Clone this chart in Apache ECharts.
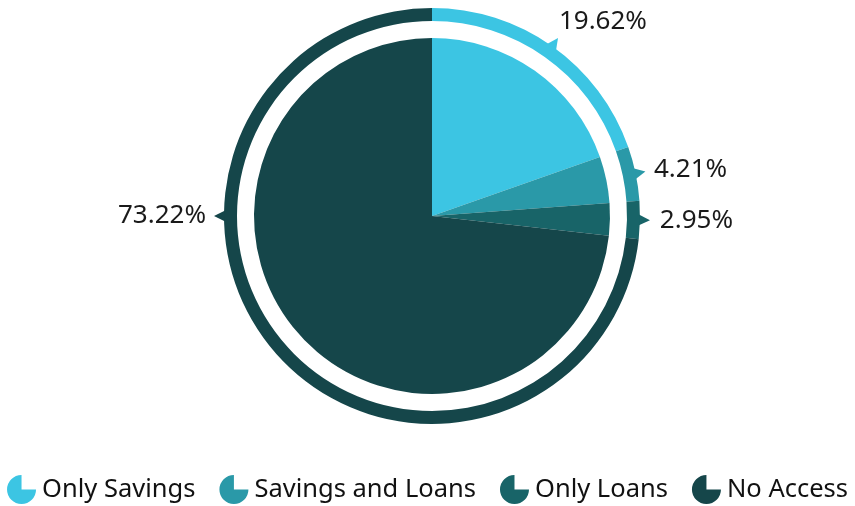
<!DOCTYPE html>
<html>
<head>
<meta charset="utf-8">
<script src="https://cdn.jsdelivr.net/npm/echarts@6/dist/echarts.min.js"></script>
<style>
  html, body { margin: 0; padding: 0; background: #fff; }
  #chart { width: 855px; height: 506px; }
</style>
</head>
<body>
<div id="chart"></div>
<script>
// data
const categories = ['Only Savings', 'Savings and Loans', 'Only Loans', 'No Access']
const shares = [19.62, 4.21, 2.95, 73.22]
const colors = ['#3cc5e3', '#2a99a8', '#186468', '#15464a']

const FONT = 'Noto Sans'
const CENTER = [432, 216]
const RING_OUT = 208

// cumulative start / end of every slice (percent of the circle)
let acc = 0
const spans = shares.map((v, i) => {
  const s = acc
  acc += v
  return [s, acc, v, i]
})

const chart = echarts.init(document.getElementById('chart'))

const option = {
  animation: false,
  color: colors,
  polar: { center: CENTER, radius: RING_OUT },
  angleAxis: { type: 'value', min: 0, max: 100, startAngle: 90, clockwise: true, show: false },
  radiusAxis: { type: 'value', min: 0, max: RING_OUT, show: false },
  legend: {
    left: 'center',
    top: 475,
    padding: 0,
    itemWidth: 31,
    itemHeight: 29,
    itemGap: 24,
    data: categories.map(name => ({ name, icon: 'path://M10 10 L10 0 A10 10 0 1 0 20 10 Z' })),
    textStyle: { fontFamily: FONT, fontSize: 25.5, color: '#111' }
  },
  series: [
    {
      type: 'pie',
      center: CENTER,
      radius: [0, 178],
      startAngle: 90,
      silent: true,
      label: { show: false },
      labelLine: { show: false },
      data: categories.map((name, i) => ({ name, value: shares[i] }))
    },
    {
      type: 'pie',
      center: CENTER,
      radius: [195, RING_OUT],
      startAngle: 90,
      silent: true,
      label: { show: false },
      labelLine: { show: false },
      data: categories.map((name, i) => ({ name, value: shares[i] }))
    },
    {
      // little pointer triangles on the ring + the percent labels
      type: 'custom',
      coordinateSystem: 'polar',
      silent: true,
      data: spans,
      renderItem: (params, api) => {
        const s = api.value(0), e = api.value(1), v = api.value(2), i = api.value(3)
        // the big slice gets its marker at 9 o'clock, the rest at their middle
        const a = v > 50 ? 75 : (s + e) / 2
        const d = 0.5
        const tip = api.coord([RING_OUT + 10, a])
        const b1 = api.coord([RING_OUT - 3, a - d])
        const b2 = api.coord([RING_OUT - 3, a + d])
        const rad = a / 100 * Math.PI * 2
        const sin = Math.sin(rad), cos = Math.cos(rad)
        const p = api.coord([RING_OUT + 20, a])
        let valign = 'middle'
        if (cos > 0.7) valign = 'bottom'
        else if (cos < -0.7) valign = 'top'
        return {
          type: 'group',
          children: [
            {
              type: 'polygon',
              shape: { points: [tip, b1, b2] },
              style: { fill: colors[i] }
            },
            {
              type: 'text',
              x: p[0] - 6 * Math.abs(cos) * (sin >= 0 ? 1 : -1) + (sin < 0 ? 2 : 0),
              y: p[1] + (valign === 'bottom' ? 5 : 0),
              style: {
                text: v.toFixed(2) + '%',
                fill: '#1a1a1a',
                fontFamily: FONT,
                fontSize: 26,
                align: sin >= 0 ? 'left' : 'right',
                verticalAlign: valign
              }
            }
          ]
        }
      }
    }
  ]
}

option && chart.setOption(option)
</script>
</body>
</html>
